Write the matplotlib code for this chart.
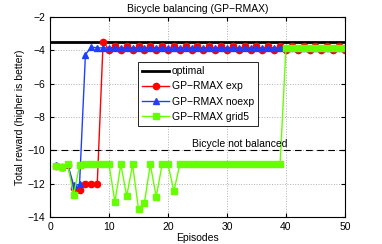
import numpy as np
import matplotlib
matplotlib.use("Agg")
import matplotlib.pyplot as plt

plt.rcParams['font.family'] = ['Liberation Sans', 'DejaVu Sans']
plt.rcParams['font.size'] = 7.5
plt.rcParams['axes.unicode_minus'] = True

episodes = list(range(1, 51))

# GP-RMAX exp
exp_reward = [-10.95, -11.0, -10.9, -12.25, -12.4, -12.05, -12.05, -12.05, -3.5] + \
    [-3.95 if e % 2 == 0 else -3.75 for e in range(10, 51)]

# GP-RMAX noexp
noexp_reward = [-10.9, -11.0, -10.85, -12.1, -12.05, -4.25] + [-3.8] + [-3.85] * 43

# GP-RMAX grid5
grid5_reward = [-10.95, -11.0, -10.85, -12.7, -10.9, -10.85, -10.85, -10.85, -10.85, -10.85,
                -13.1, -10.85, -12.75, -10.85, -13.55, -13.15, -10.85, -12.8, -10.85, -10.85,
                -12.45] + [-10.85] * 18 + [-3.85] * 11

optimal = -3.5
not_balanced = -10.0

fig = plt.figure(figsize=(3.82, 2.44), dpi=100)
ax = fig.add_axes([0.131, 0.111, 0.772, 0.819])

ax.axhline(optimal, color='black', lw=2, label='optimal')
ax.plot(episodes, exp_reward, '-o', color='#ff0000', lw=1, ms=4.5, label='GP\u2212RMAX exp')
ax.plot(episodes, noexp_reward, '-^', color='#1f3fff', lw=1, ms=4.5, label='GP\u2212RMAX noexp')
ax.plot(episodes, grid5_reward, '-s', color='#66ff00', lw=1, ms=3.8, label='GP\u2212RMAX grid5')
ax.axhline(not_balanced, color='black', lw=0.8, ls=(0, (6, 4)))
ax.text(24, -9.95, 'Bicycle not balanced', fontsize=7.5, va='bottom', ha='left')

ax.set_xlim(0, 50)
ax.set_ylim(-14, -2)
ax.set_xticks([0, 10, 20, 30, 40, 50])
ax.set_yticks([-14, -12, -10, -8, -6, -4, -2])
ax.grid(True, ls=':', color='#b0b0b0', lw=0.7)
ax.tick_params(direction='in', length=3, top=True, right=True)
ax.set_xlabel('Episodes', labelpad=1)
ax.set_ylabel('Total reward (higher is better)', labelpad=2)
ax.set_title('Bicycle balancing (GP\u2212RMAX)', fontsize=7.5, pad=4)

leg = ax.legend(loc='upper right', bbox_to_anchor=(0.705, 0.775), fancybox=False,
                edgecolor='black', framealpha=1, borderpad=0.4, handlelength=2.5,
                handletextpad=0.3, labelspacing=0.5, borderaxespad=0)
leg.get_frame().set_linewidth(0.6)

fig.savefig('out.png', dpi=100)
